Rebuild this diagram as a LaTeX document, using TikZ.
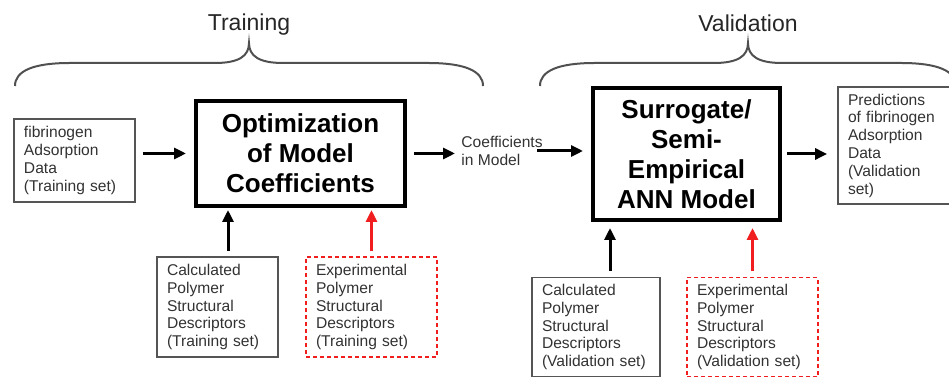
\documentclass[tikz,border=0pt]{standalone}
\usepackage{fontspec}
\setmainfont{Liberation Sans}
\usepackage{xcolor}
\usepackage{tikz}
\usetikzlibrary{calc,arrows.meta,positioning}
\definecolor{BoxGray}{RGB}{85, 85, 85}
\definecolor{TextGray}{RGB}{50, 50, 50}
\definecolor{BraceGray}{RGB}{80, 80, 80}
\definecolor{DescRed}{RGB}{240, 30, 30}

\newcommand{\phasebrace}[2]{%
    \pgfmathsetmacro{\bmid}{(#1+#2)/2}
    \draw[bracestyle] (#1,86) .. controls (#1,71) and (#1+18,63) .. (#1+55,63)
        -- (\bmid-34,63) .. controls (\bmid-10,63) and (\bmid,56) .. (\bmid,43)
        .. controls (\bmid,56) and (\bmid+10,63) .. (\bmid+34,63)
        -- (#2-55,63) .. controls (#2-18,63) and (#2,71) .. (#2,86);
}

\begin{document}
\begin{tikzpicture}[x=0.5pt, y=-0.5pt,
    smallbox/.style={draw=BoxGray, line width=0.9pt, align=left, inner xsep=5pt,
        font=\fontsize{7.8}{8.9}\selectfont, text=TextGray},
    expbox/.style={smallbox, draw=DescRed, dash pattern=on 2pt off 1.5pt},
    bigbox/.style={draw=black, line width=2pt, align=center,
        font=\fontsize{13}{15}\selectfont\bfseries},
    arr/.style={line width=1.5pt, -{Triangle[length=6pt,width=5.5pt]}},
    bracestyle/.style={BraceGray, line width=1pt},
    phase/.style={font=\fontsize{11.5}{13}\selectfont, text=black!85}]
    \useasboundingbox (0,0) rectangle (949,378);
    \clip (0,0) rectangle (949,378);

    % phase braces
    \phasebrace{15}{483}
    \phasebrace{540}{956}
    \node[phase] (train) at (249,25) {Training};
    \node[phase] (valid) at (748,23) {Validation};

    % training part
    \node[smallbox, text width=50.5pt, minimum height=41.5pt] (fib) at (74.5,160.5)
        {fibrinogen\\Adsorption\\Data\\(Training set)};
    \node[bigbox, minimum width=104.5pt, minimum height=52.5pt] (opt) at (300.5,153.5)
        {Optimization\\of Model\\Coefficients};
    \node[smallbox, text width=50.5pt, minimum height=50pt] (calcT) at (217.5,307)
        {Calculated\\Polymer\\Structural\\Descriptors\\(Training set)};
    \node[expbox, text width=55.5pt, minimum height=50pt] (expT) at (371.5,307)
        {Experimental\\Polymer\\Structural\\Descriptors\\(Training set)};

    % coefficients handed over
    \node[anchor=west, align=left, inner sep=0pt, text=TextGray,
        font=\fontsize{7.8}{8.9}\selectfont] (coef) at (461,151)
        {Coefficients\\in Model};

    % validation part
    \node[bigbox, minimum width=93.5pt, minimum height=66pt] (sur) at (686.5,154)
        {Surrogate/\\Semi-\\Empirical\\ANN Model};
    \node[smallbox, text width=50pt, minimum height=58.5pt] (pred) at (898,145.5)
        {Predictions\\of fibrinogen\\Adsorption\\Data\\(Validation\\set)};
    \node[smallbox, text width=54pt, minimum height=48pt] (calcV) at (596,327)
        {Calculated\\Polymer\\Structural\\Descriptors\\(Validation set)};
    \node[expbox, text width=55.5pt, minimum height=48pt] (expV) at (752.5,327)
        {Experimental\\Polymer\\Structural\\Descriptors\\(Validation set)};

    % flow arrows
    \draw[arr, shorten <=3.5pt, shorten >=4pt] (fib.east |- opt.west) -- (opt.west);
    \draw[arr, shorten <=3.5pt, shorten >=3pt] (opt.east) -- (coef.west |- opt.east);
    \draw[arr, shorten >=4pt] ([xshift=-3pt]coef.east) -- (sur.west |- coef.east);
    \draw[arr, shorten <=2.5pt, shorten >=5pt] (sur.east) -- (pred.west |- sur.east);

    \draw[arr, shorten <=2.5pt, shorten >=1pt] ([xshift=5.25pt]calcT.north) -- ([xshift=5.25pt]calcT.north |- opt.south);
    \draw[arr, DescRed, shorten <=2.5pt, shorten >=1pt] (expT.north) -- (expT.north |- opt.south);
    \draw[arr, shorten <=3pt, shorten >=3pt] ([xshift=7pt]calcV.north) -- ([xshift=7pt]calcV.north |- sur.south);
    \draw[arr, DescRed, shorten <=3pt, shorten >=3pt] (expV.north) -- (expV.north |- sur.south);
\end{tikzpicture}
\end{document}
